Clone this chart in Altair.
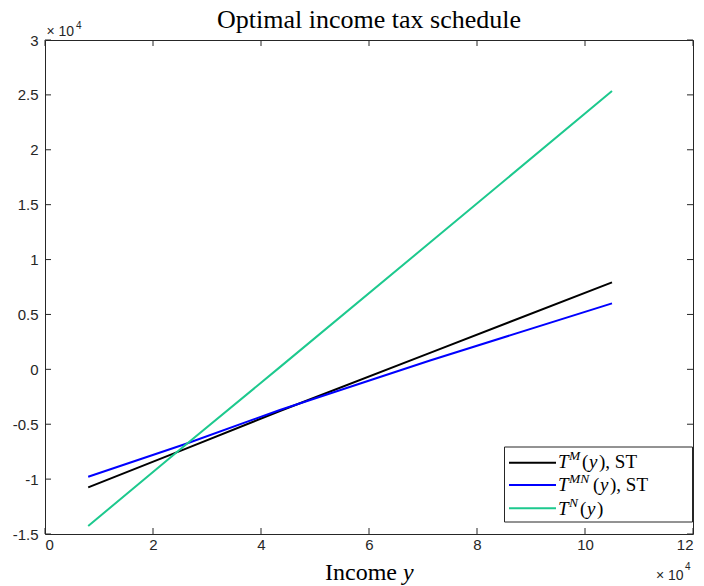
import altair as alt
import pandas as pd

# Income grid and the three tax schedules read at those incomes
income = [8000, 26000, 43500, 71300, 105000]
tax_m_st = [-10750, -7250, -3800, 1500, 7920]
tax_mn_st = [-9780, -6800, -3700, 800, 6010]
tax_n = [-14270, -6900, 200, 11550, 25350]

series_keys = ["M_ST", "MN_ST", "N"]
series_colors = ["#000000", "#0000ff", "#1dc98e"]

x_ticks = [0, 20000, 40000, 60000, 80000, 100000, 120000]
y_ticks = [-15000, -10000, -5000, 0, 5000, 10000, 15000, 20000, 25000, 30000]

W, H = 648, 494
AXIS_COLOR = "#262626"
SANS = "Liberation Sans"
SERIF = "Liberation Serif"

rows = []
for key, vals in zip(series_keys, [tax_m_st, tax_mn_st, tax_n]):
    for xv, yv in zip(income, vals):
        rows.append({"series": key, "income": xv, "tax": yv})
df = pd.DataFrame(rows)


def xenc():
    return alt.X(
        "income:Q",
        title=None,
        scale=alt.Scale(domain=[0, 120000], nice=False, zero=False),
        axis=alt.Axis(values=x_ticks, labelExpr="datum.value / 10000",
                      ticks=False, domain=False, grid=False, labelPadding=3,
                      labelFont=SANS, labelFontSize=15, labelColor=AXIS_COLOR),
    )


def yenc():
    return alt.Y(
        "tax:Q",
        title=None,
        scale=alt.Scale(domain=[-15000, 30000], nice=False, zero=False),
        axis=alt.Axis(values=y_ticks, labelExpr="datum.value / 10000",
                      ticks=False, domain=False, grid=False, labelPadding=7,
                      labelFont=SANS, labelFontSize=15, labelColor=AXIS_COLOR),
    )


lines = alt.Chart(df).mark_line(strokeWidth=2, clip=True).encode(
    x=xenc(),
    y=yenc(),
    color=alt.Color("series:N",
                    scale=alt.Scale(domain=series_keys, range=series_colors),
                    legend=None),
)

# Inward-pointing ticks on all four sides of the box
xt = pd.DataFrame({"income": x_ticks})
yt = pd.DataFrame({"tax": y_ticks})
tick_style = dict(color=AXIS_COLOR, strokeWidth=1)
ticks = [
    alt.Chart(xt).mark_rule(**tick_style).encode(x=xenc(), y=alt.value(H), y2=alt.value(H - 6)),
    alt.Chart(xt).mark_rule(**tick_style).encode(x=xenc(), y=alt.value(0), y2=alt.value(6)),
    alt.Chart(yt).mark_rule(**tick_style).encode(y=yenc(), x=alt.value(0), x2=alt.value(6)),
    alt.Chart(yt).mark_rule(**tick_style).encode(y=yenc(), x=alt.value(W), x2=alt.value(W - 6)),
]


def text(label, x, y, size, font=SANS, style="normal", align="left", color="#000000"):
    return alt.Chart(pd.DataFrame({"label": [label]})).mark_text(
        font=font, fontSize=size, fontStyle=style, align=align,
        baseline="alphabetic", color=color,
    ).encode(x=alt.value(x), y=alt.value(y), text="label:N")


title = text("Optimal income tax schedule", W / 2, -11.7, 26, font=SERIF, align="center")

# Axis multipliers
multipliers = [
    text("\u00d7 10", 1.5, -4, 14, color=AXIS_COLOR),
    text("4", 31, -11.5, 10, color=AXIS_COLOR),
    text("\u00d7 10", 611, 540, 14, color=AXIS_COLOR),
    text("4", 640, 530, 10, color=AXIS_COLOR),
]

# x-axis title: "Income y" with an italic y
xtitle = [
    text("Income", 352, 540, 24, font=SERIF, align="right"),
    text("y", 358, 540, 24, font=SERIF, style="italic"),
]

# Legend box
one = pd.DataFrame({"k": [0]})
legend_box = alt.Chart(one).mark_rect(fill="white", stroke=AXIS_COLOR, strokeWidth=1).encode(
    x=alt.value(459.5), x2=alt.value(647.5), y=alt.value(407), y2=alt.value(482)
)
legend_parts = [legend_box]
row_line_y = [422.7, 445.0, 468.3]
row_base_y = [428.3, 450.7, 475.0]
sup_text = ["M", "MN", "N"]
paren_x = [537, 548, 535]
tails = ["), ST", "), ST", ")"]
for color, ly, by, sup, px, tail in zip(series_colors, row_line_y, row_base_y,
                                        sup_text, paren_x, tails):
    legend_parts.append(
        alt.Chart(one).mark_rule(color=color, strokeWidth=2).encode(
            x=alt.value(464), x2=alt.value(511), y=alt.value(ly))
    )
    legend_parts.append(text("T", 513, by, 19, font=SERIF, style="italic"))
    legend_parts.append(text(sup, 524, by - 8, 13.5, font=SERIF, style="italic"))
    legend_parts.append(text("(", px, by, 19, font=SERIF))
    legend_parts.append(text("y", px + 7, by, 19, font=SERIF, style="italic"))
    legend_parts.append(text(tail, px + 17, by, 19, font=SERIF))

chart = alt.layer(
    lines, *ticks, title, *multipliers, *xtitle, *legend_parts
).properties(
    width=W,
    height=H,
    autosize=alt.AutoSizeParams(type="none"),
    padding={"left": 45, "top": 40, "right": 11, "bottom": 52},
    background="white",
).configure_view(stroke=AXIS_COLOR, strokeWidth=1)

chart.save("out.html", embed_options={"renderer": "svg", "actions": False})
